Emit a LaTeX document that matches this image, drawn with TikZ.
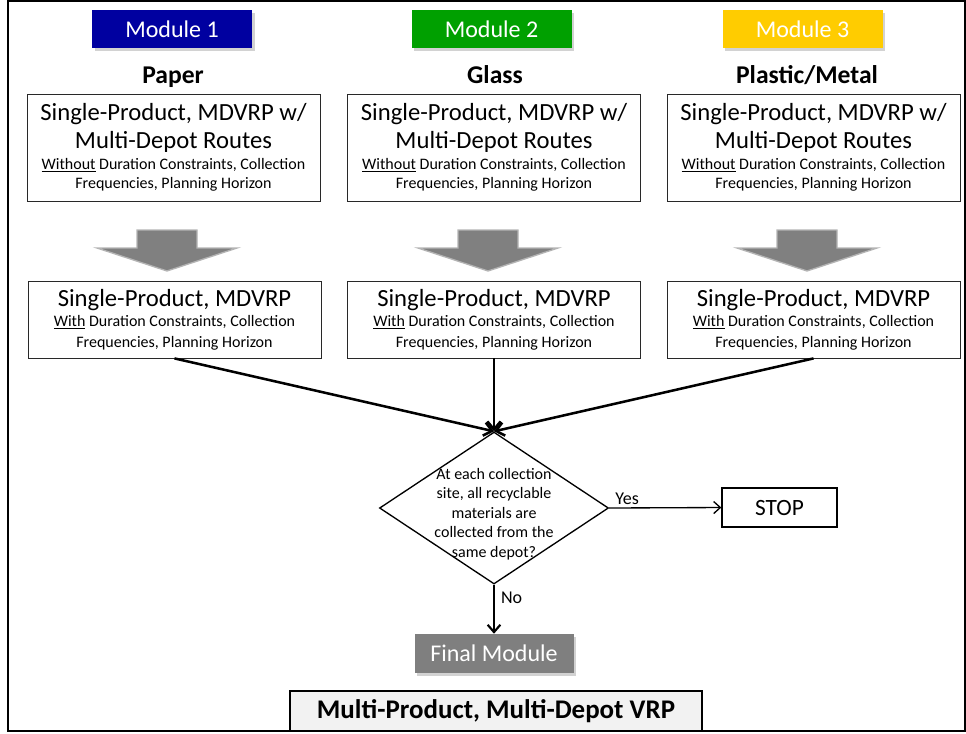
\documentclass[tikz,border=0pt]{standalone}
\usepackage{fontspec}
\setmainfont{Carlito}
\usetikzlibrary{shapes.geometric,arrows.meta,shadows}
\definecolor{modblue}{RGB}{0,0,160}
\definecolor{modgreen}{RGB}{0,160,0}
\definecolor{modyellow}{RGB}{255,204,0}
\definecolor{arrgray}{RGB}{128,128,128}
\definecolor{arredge}{RGB}{180,180,180}
\definecolor{finalgray}{RGB}{127,127,127}
\definecolor{lightfill}{RGB}{242,242,242}
\definecolor{boxline}{RGB}{40,40,40}
\newcommand\bigtxt{\fontsize{18.5}{21}\selectfont}
\newcommand\smalltxt{\fontsize{12}{14.25}\selectfont}
\newcommand\grayarrow[2]{%
  \filldraw[blockarr,shift={(#1,0)}] (-30,230) -- (30,230) -- (30,248) -- (70,248)
    -- (0,271) -- (-70,248) -- (-30,248) -- cycle;}
\begin{document}
\begin{tikzpicture}[x=0.75pt,y=-0.75pt,
  modbox/.style={fill=#1,minimum width=120pt,minimum height=28.5pt,inner sep=0pt,
    text=white,font=\fontsize{18}{21}\selectfont,
    drop shadow={shadow xshift=2pt,shadow yshift=-2pt,opacity=0.35}},
  catlabel/.style={font=\bfseries\fontsize{19.2}{22}\selectfont,inner sep=0pt,anchor=base},
  probbox/.style={draw=boxline,line width=0.6pt,minimum width=219.75pt,align=center,
    inner sep=0pt,font=\bigtxt},
  blockarr/.style={fill=arrgray,draw=arredge,line width=1pt},
  conn/.style={line width=1.9pt,-{Straight Barb[length=6pt,width=10pt]}},
  decision/.style={draw,diamond,line width=1pt,minimum width=171.75pt,
    minimum height=114pt,inner sep=0pt},
  dectext/.style={align=center,inner sep=0pt,font=\fontsize{12}{14.6}\selectfont},
  stopbox/.style={draw,line width=1pt,minimum width=86.25pt,minimum height=29.25pt,
    inner sep=0pt,font=\fontsize{17.5}{21}\selectfont},
  finalbox/.style={fill=finalgray,minimum width=119.25pt,minimum height=29.25pt,
    inner sep=0pt,text=white,font=\fontsize{18}{21}\selectfont,
    drop shadow={shadow xshift=2pt,shadow yshift=-2pt,opacity=0.35}},
  mpbox/.style={draw,fill=lightfill,line width=1.5pt,minimum width=309pt,
    minimum height=30pt,inner sep=0pt,font=\bfseries\fontsize{20.2}{24}\selectfont},
  lbl/.style={inner sep=0pt,font=\fontsize{13.5}{16}\selectfont}
]
\useasboundingbox (0,0) rectangle (966,733);
\fill[white] (0,0) rectangle (966,733);

% module headers
\node[modbox=modblue]   (mod1) at (172,29)    {Module 1};
\node[modbox=modgreen]  (mod2) at (491.5,29)  {Module 2};
\node[modbox=modyellow] (mod3) at (802.5,29)  {Module 3};

% categories
\node[catlabel] (cat1) at (173,83) {Paper};
\node[catlabel] (cat2) at (495,83) {Glass};
\node[catlabel] (cat3) at (807,83) {Plastic/Metal};

% top boxes
\node[probbox,minimum height=80.25pt] (t1) at (173.5,147.5)
 {Single-Product, MDVRP w/\\Multi-Depot Routes\\[-5.25pt]
  \smalltxt\underline{Without} Duration Constraints, Collection\\[-6.75pt]
  \smalltxt Frequencies, Planning Horizon};
\node[probbox,minimum height=80.25pt] (t2) at (494,147.5)
 {Single-Product, MDVRP w/\\Multi-Depot Routes\\[-5.25pt]
  \smalltxt\underline{Without} Duration Constraints, Collection\\[-6.75pt]
  \smalltxt Frequencies, Planning Horizon};
\node[probbox,minimum height=80.25pt] (t3) at (813.5,147.5)
 {Single-Product, MDVRP w/\\Multi-Depot Routes\\[-5.25pt]
  \smalltxt\underline{Without} Duration Constraints, Collection\\[-6.75pt]
  \smalltxt Frequencies, Planning Horizon};

% block arrows
\grayarrow{167}{a1}
\grayarrow{488}{a2}
\grayarrow{807}{a3}

% middle boxes
\node[probbox,minimum height=57.75pt] (m1) at (174.5,319.5)
 {Single-Product, MDVRP\\[-6pt]
  \smalltxt\underline{With} Duration Constraints, Collection\\[-5.25pt]
  \smalltxt Frequencies, Planning Horizon};
\node[probbox,minimum height=57.75pt] (m2) at (494,319.5)
 {Single-Product, MDVRP\\[-6pt]
  \smalltxt\underline{With} Duration Constraints, Collection\\[-5.25pt]
  \smalltxt Frequencies, Planning Horizon};
\node[probbox,minimum height=57.75pt] (m3) at (813.5,319.5)
 {Single-Product, MDVRP\\[-6pt]
  \smalltxt\underline{With} Duration Constraints, Collection\\[-5.25pt]
  \smalltxt Frequencies, Planning Horizon};

% decision
\node[decision] (dec) at (494,508) {};
\node[dectext] (dtxt) at (494,514)
 {At each collection\\site, all recyclable\\materials are\\collected from the\\same depot?};

\node[stopbox] (stop) at (779.5,507.5) {STOP};
\node[finalbox] (final) at (494,653.5) {Final Module};
\node[mpbox] (mp) at (496,711) {Multi-Product, Multi-Depot VRP};

% connectors
\draw[conn] (m1.south) -- (dec.north);
\draw[conn] (m2.south) -- (dec.north);
\draw[conn] (m3.south) -- (dec.north);
\draw[line width=1pt,-{Straight Barb[length=5pt,width=9pt]}] (dec.east) --
  node[lbl,pos=0.16,anchor=south,yshift=2pt] (yes) {Yes} (stop.west);
\draw[line width=1.6pt,-{Straight Barb[length=5.5pt,width=9.5pt]}] (dec.south) --
  node[lbl,pos=0.26,anchor=west,xshift=4.5pt] (no) {No} (final.north);

% outer frame
\draw[line width=1.8pt] (8,1) rectangle (965,731);
\end{tikzpicture}
\end{document}
